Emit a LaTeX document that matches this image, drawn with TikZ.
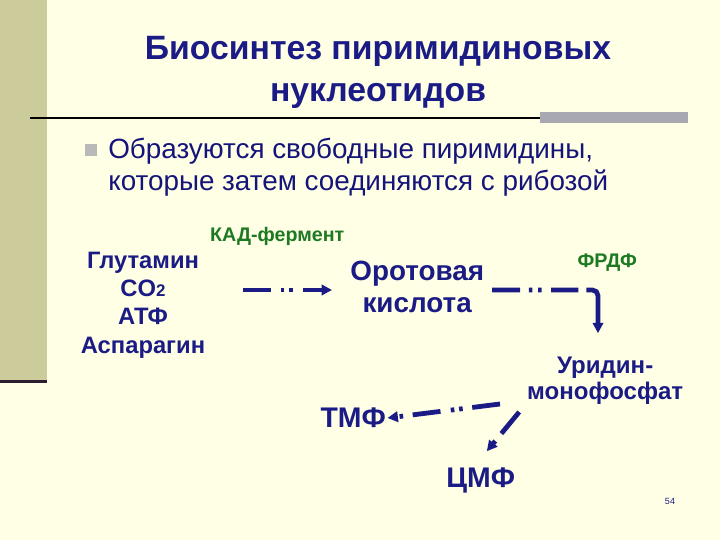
\documentclass[tikz,border=0pt]{standalone}
\usepackage{fontspec}
\setmainfont{Liberation Sans}
\usetikzlibrary{arrows.meta,calc,positioning}
\definecolor{paper}{HTML}{FFFFE5}
\definecolor{khaki}{HTML}{CBCB9B}
\definecolor{plum}{HTML}{2E1C30}
\definecolor{navy}{HTML}{1B1B86}
\definecolor{ink}{HTML}{14147A}
\definecolor{leaf}{HTML}{1D7A22}
\definecolor{rulegray}{HTML}{A8A8B0}
\tikzset{
  every picture/.style={font=\rmfamily},
  heading/.style={font=\bfseries\fontsize{24}{29.9}\selectfont,text=navy,align=center},
  bodytext/.style={font=\fontsize{19.8}{22.8}\selectfont,text=ink,align=left,anchor=west,inner sep=0pt},
  enzyme/.style={font=\bfseries\fontsize{14}{15}\selectfont,text=leaf},
  compound/.style={font=\bfseries\fontsize{16.9}{20}\selectfont,text=navy,align=center},
  pathway/.style={draw=navy,line width=3.4pt,
    dash pattern=on 0.7cm off 0.24cm on 0.09cm off 0.12cm on 0.09cm off 0.26cm,
    -{Triangle[length=2.6mm,width=2.6mm]}},
}
\begin{document}
\begin{tikzpicture}[x=1cm,y=1cm]
  \useasboundingbox (0,0) rectangle (18,13.5);
  % slide background and the left strip
  \fill[paper] (0,0) rectangle (18,13.5);
  \fill[khaki] (0,4.0) rectangle (1.175,13.5);
  \fill[plum] (0,3.92) rectangle (1.175,4.0);
  \fill[rulegray] (13.5,10.42) rectangle (17.2,10.7);
  \draw[black,line width=1.5pt] (0.75,10.56) -- (13.5,10.56);

  % title and bullet
  \node[heading] (title) at (9.45,11.7) {Биосинтез пиримидиновых\\нуклеотидов};
  \fill[gray!55] (2.13,9.6) rectangle (2.43,9.9);
  \node[bodytext] (intro) at (2.7,9.31) {Образуются свободные пиримидины,\\которые затем соединяются с рибозой};

  % pathway
  \node[enzyme] (kad) at (6.93,7.6) {КАД-фермент};
  \node[compound] (subs) at (3.575,5.87) {Глутамин\\CO{\fontsize{12}{14}\selectfont 2}\\АТФ\\Аспарагин};
  \node[compound,font=\bfseries\fontsize{19.8}{22.8}\selectfont] (orot) at (10.43,6.33) {Оротовая\\кислота};
  \node[enzyme] (frdf) at (15.18,6.93) {ФРДФ};
  \node[compound,font=\bfseries\fontsize{17.1}{18.5}\selectfont] (ump) at (15.13,3.99) {Уридин-\\монофосфат};
  \node[compound,font=\bfseries\fontsize{20.2}{22}\selectfont,inner sep=1pt] (tmf) at (8.83,3.05) {ТМФ};
  \node[compound,font=\bfseries\fontsize{20.2}{22}\selectfont] (cmf) at (12.02,1.5) {ЦМФ};
  \node[font=\fontsize{6.4}{7}\selectfont,text=navy] (page) at (16.75,0.97) {54};

  \coordinate (from1) at (6.08,6.25);
  \coordinate (to1) at (8.3,6.25);
  \coordinate (from2) at (12.3,6.25);
  \coordinate (to2) at (14.95,5.17);
  \coordinate (from3) at (12.5,3.4);
  \coordinate (from4) at (12.98,3.2);
  \coordinate (to4) at (12.17,2.22);
  \draw[pathway] (from1) -- (to1);
  \draw[pathway,rounded corners=4pt,
    dash pattern=on 0.7cm off 0.22cm on 0.09cm off 0.14cm on 0.09cm off 0.24cm on 0.68cm off 0.2cm on 2cm]
    (from2) -| (to2);
  \draw[pathway] (from3) -- (tmf.east);
  \draw[pathway] (from4) -- (to4);
\end{tikzpicture}
\end{document}
